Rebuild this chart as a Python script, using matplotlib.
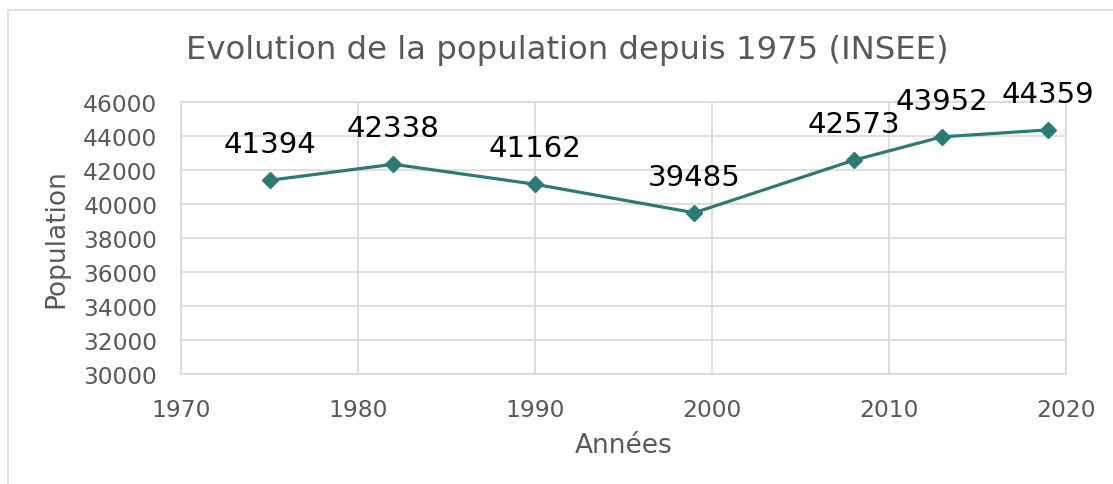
import matplotlib.pyplot as plt
from matplotlib.patches import Rectangle

years = [1975, 1982, 1990, 1999, 2008, 2013, 2019]
population = [41394, 42338, 41162, 39485, 42573, 43952, 44359]

line_color = '#2b7a75'
grey = '#595959'
grid_color = '#d9d9d9'

fig = plt.figure(figsize=(11.13, 4.85), dpi=100)
ax = fig.add_axes([181 / 1113, 1 - 375 / 485, (1066 - 181) / 1113, (375 - 103) / 485])

# outer chart border (cut off on the right and bottom)
fig.patches.append(Rectangle((8 / 1113, -0.05), 1.2, 1 - 11 / 485 + 0.05,
                             transform=fig.transFigure, fill=False,
                             edgecolor=grid_color, linewidth=1.2))

ax.plot(years, population, color=line_color, linewidth=2.3,
        marker='D', markersize=8, zorder=3)

for x, y in zip(years, population):
    ax.annotate(str(y), (x, y), xytext=(0, 26), textcoords='offset points',
                ha='center', va='center', fontsize=21, color='black')

ax.set_xlim(1970, 2020)
ax.set_ylim(30000, 46000)
ax.set_xticks(range(1970, 2021, 10))
ax.set_yticks(range(30000, 46001, 2000))
ax.grid(True, color=grid_color, linewidth=1.2)
ax.set_axisbelow(True)
ax.tick_params(length=0, labelsize=16.8, labelcolor=grey, pad=17)
for s in ax.spines.values():
    s.set_color(grid_color)
    s.set_linewidth(1.2)

ax.set_xlabel('Années', fontsize=19, color=grey, labelpad=8)
ax.set_ylabel('Population', fontsize=19, color=grey, labelpad=10)
fig.text(567 / 1113, 1 - 50 / 485, 'Evolution de la population depuis 1975 (INSEE)',
         ha='center', va='center', fontsize=23.3, color=grey)

fig.savefig('out.png', dpi=100)
